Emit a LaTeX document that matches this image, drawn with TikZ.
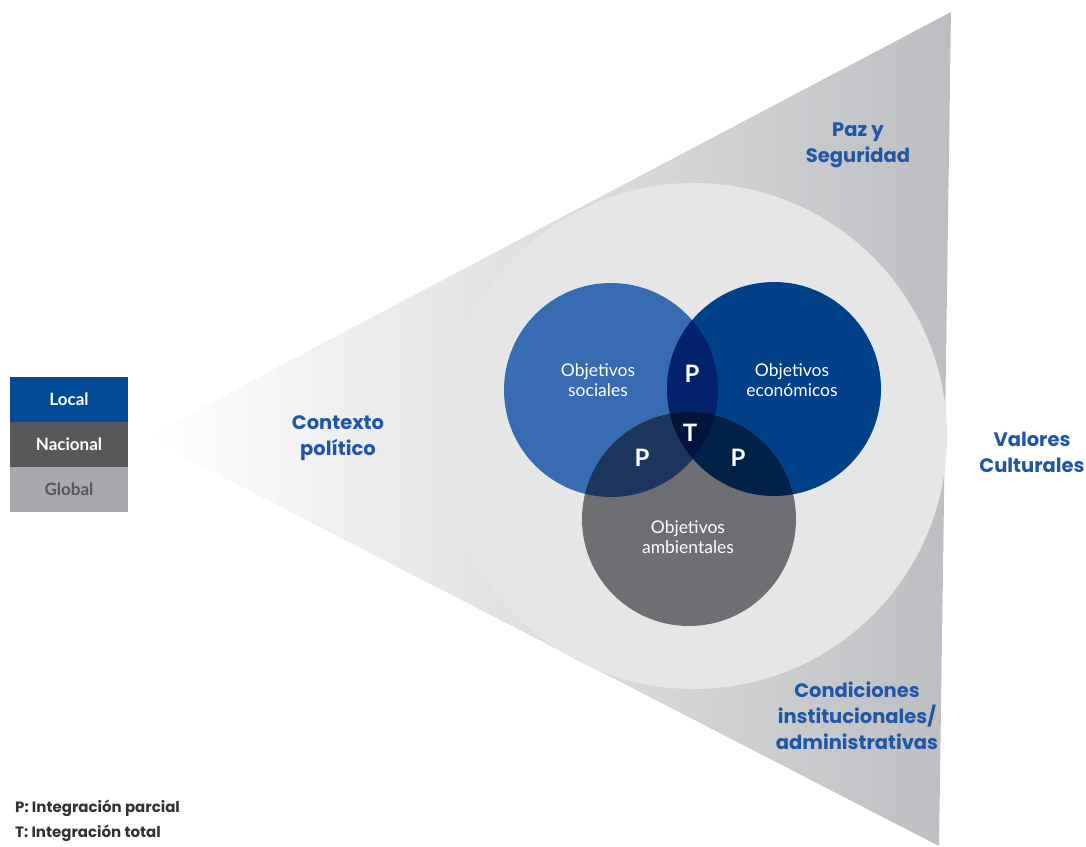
\documentclass[tikz,border=0pt]{standalone}
\usepackage{fontspec}
\setmainfont{Lato}
\newfontfamily\labfont{Poppins}
\definecolor{lblblue}{RGB}{31,87,166}
\definecolor{csoc}{RGB}{56,108,178}
\definecolor{ceco}{RGB}{0,64,136}
\definecolor{camb}{RGB}{110,111,115}
\definecolor{cse}{RGB}{2,34,108}
\definecolor{csa}{RGB}{28,54,94}
\definecolor{cea}{RGB}{0,34,72}
\definecolor{call}{RGB}{2,20,60}
\definecolor{cbig}{RGB}{230,230,231}
\definecolor{ctri}{RGB}{189,190,193}
\definecolor{clocal}{RGB}{0,74,152}
\definecolor{cnac}{RGB}{88,88,90}
\definecolor{cglob}{RGB}{168,169,172}
\definecolor{cleg}{RGB}{50,50,52}
\tikzset{
  lbl/.style={font=\labfont\bfseries\fontsize{19.5}{26}\selectfont, text=lblblue, align=center},
  obj/.style={font=\fontsize{17.5}{20}\selectfont, text=white, align=center},
  pt/.style={font=\bfseries\fontsize{24}{26}\selectfont, text=white},
  lvl/.style={rectangle, minimum width=118pt, minimum height=45pt, inner sep=0pt, font=\bfseries\fontsize{17}{18}\selectfont},
  leg/.style={anchor=west, inner sep=0pt, font=\labfont\bfseries\fontsize{15}{16}\selectfont, text=cleg}
}
\begin{document}
\begin{tikzpicture}[x=1pt,y=-1pt]
\useasboundingbox (0,0) rectangle (1086,846);
% triangle
\coordinate (apex) at (145,437);
\coordinate (tr) at (951,12);
\coordinate (br) at (939,846);
\shade[left color=white, right color=ctri] (apex) -- (tr) -- (br) -- cycle;
% big circle
\coordinate (bigc) at (694,436);
\fill[cbig] (bigc) circle (253);
% venn
\coordinate (soc) at (611,390);
\coordinate (eco) at (774,389);
\coordinate (amb) at (689,519);
\def\vr{107}
\fill[csoc] (soc) circle (\vr);
\fill[ceco] (eco) circle (\vr);
\fill[camb] (amb) circle (\vr);
\begin{scope}\clip (soc) circle (\vr); \fill[cse] (eco) circle (\vr); \end{scope}
\begin{scope}\clip (soc) circle (\vr); \fill[csa] (amb) circle (\vr); \end{scope}
\begin{scope}\clip (eco) circle (\vr); \fill[cea] (amb) circle (\vr); \end{scope}
\begin{scope}\clip (soc) circle (\vr); \clip (eco) circle (\vr); \fill[call] (amb) circle (\vr); \end{scope}
% venn texts
\node[obj] (tsoc) at (598,380) {Objetivos\\sociales};
\node[obj] (teco) at (792,380) {Objetivos\\económicos};
\node[obj] (tamb) at (688,537) {Objetivos\\ambientales};
\node[pt] (p1) at (692,374) {P};
\node[pt] (t0) at (690,433) {T};
\node[pt] (p2) at (642,458) {P};
\node[pt] (p3) at (738,458) {P};
% labels
\node[lbl] (ctx) at (338,438) {Contexto\\político};
\node[lbl] (paz) at (858,145) {Paz y\\Seguridad};
\node[lbl] (val) at (1032,452) {Valores\\Culturales};
\node[lbl] (cond) at (857,716) {Condiciones\\institucionales/\\administrativas};
% levels
\node[lvl, fill=clocal, text=white] (local) at (69,399.5) {Local};
\node[lvl, fill=cnac, text=white] (nac) at (69,444.5) {Nacional};
\node[lvl, fill=cglob, text=cnac] (glob) at (69,489.5) {Global};
% legend
\node[leg] (legp) at (15,808) {P: Integración parcial};
\node[leg] (legt) at (15,833) {T: Integración total};
\end{tikzpicture}
\end{document}
